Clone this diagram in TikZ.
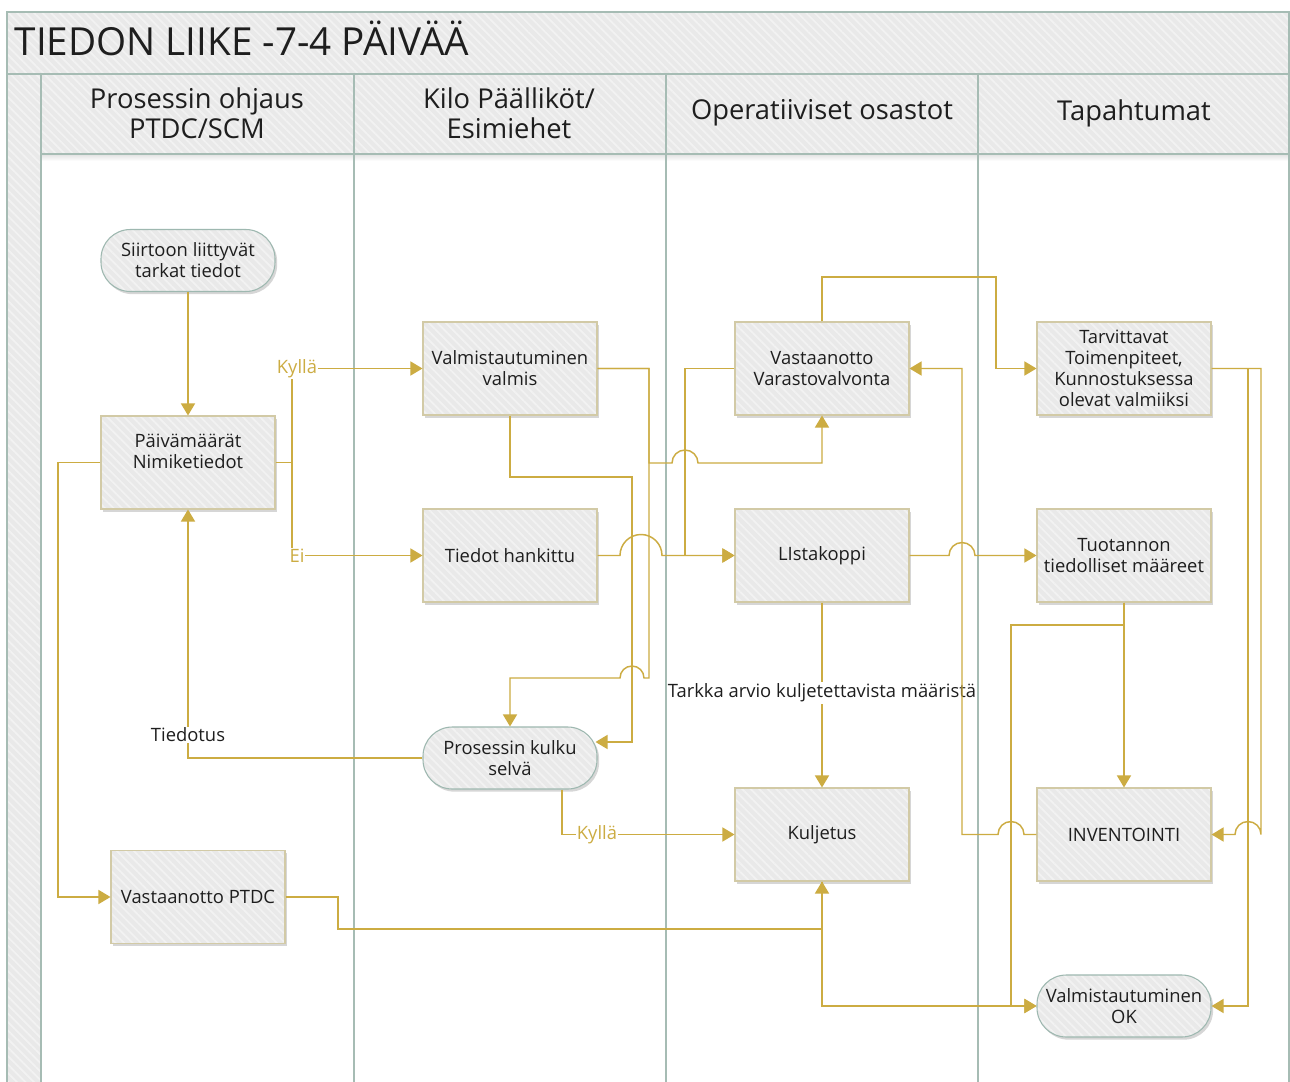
\documentclass[tikz,border=0pt]{standalone}
\usepackage{fontspec}
\setmainfont{Open Sans}
\usetikzlibrary{arrows.meta,patterns.meta,shadows,calc}

\definecolor{gold}{RGB}{204,172,66}
\definecolor{laneline}{RGB}{166,188,180}
\definecolor{cellfill}{RGB}{233,233,233}
\definecolor{stripe}{RGB}{242,242,242}
\definecolor{boxedge}{RGB}{210,202,166}
\definecolor{termedge}{RGB}{158,184,176}
\definecolor{ink}{RGB}{30,30,30}

\newcommand\boxfont{\fontsize{13.8}{15.75}\selectfont}
\newcommand\lanefont{\fontsize{20.5}{22.5}\selectfont}
\newcommand\bannerfont{\fontsize{29}{32}\selectfont}

\tikzset{
  hatched/.style={preaction={fill=cellfill},
    preaction={pattern={Lines[angle=-45,distance=4.5pt,line width=1.3pt]},
                pattern color=stripe}},
  procbox/.style={
    drop shadow={shadow xshift=1.6pt, shadow yshift=-2pt, opacity=0.16, fill=black},
    hatched, draw=boxedge, line width=0.8pt,
    minimum width=130.5pt, minimum height=69.75pt, inner sep=2pt,
    align=center, font=\boxfont, text=ink},
  termbox/.style={procbox, draw=termedge, minimum height=46.5pt, rounded corners=22pt},
  lanehead/.style={font=\lanefont, text=ink, align=center},
  link/.style={draw=gold, line width=1.1pt},
  conn/.style={link, -{Triangle[length=9pt,width=10.5pt]}},
  goldlbl/.style={fill=white, inner sep=0.6pt, text=gold, font=\boxfont},
  inklbl/.style={fill=white, inner xsep=0pt, inner ysep=1pt, text=ink, font=\boxfont},
  laneedge/.style={draw=laneline, line width=1.1pt}
}

\begin{document}
\begin{tikzpicture}[x=0.75pt,y=-0.75pt]
\useasboundingbox (0,0) rectangle (1290,1082);
\fill[white] (0,0) rectangle (1290,1082);

% swimlane frame
\path[hatched] (7,12) rectangle (1289,74);
\path[hatched] (7,74) rectangle (41,1082);
\path[hatched] (41,74) rectangle (1289,154);
\shade[top color=black!10, bottom color=white] (41,155) rectangle (1289,161);
\draw[laneedge] (7,1082) -- (7,12) -- (1289,12) -- (1289,1082);
\draw[laneedge] (7,74) -- (1289,74);
\draw[laneedge] (41,154) -- (1289,154);
\foreach \lx in {41,354,666,978} \draw[laneedge] (\lx,74) -- (\lx,1082);

\node[anchor=west, font=\bannerfont, text=ink] (title) at (10,38) {TIEDON LIIKE -7-4 PÄIVÄÄ};
\node[lanehead] (h1) at (197,113) {Prosessin ohjaus\\PTDC/SCM};
\node[lanehead] (h2) at (509,113) {Kilo Päälliköt/\\Esimiehet};
\node[lanehead] (h3) at (822,113) {Operatiiviset osastot};
\node[lanehead] (h4) at (1134,113) {Tapahtumat};

% process steps
\node[termbox] (sii)  at (188,260.5)  {Siirtoon liittyvät\\tarkat tiedot};
\node[procbox] (paiv) at (188,462.5)  {Päivämäärät\\Nimiketiedot\\[1.5pt]\mbox{}};
\node[procbox] (valv) at (510,368.5)  {Valmistautuminen\\valmis};
\node[procbox] (tied) at (510,555.5)  {Tiedot hankittu};
\node[procbox] (vast) at (822,368.5)  {Vastaanotto\\Varastovalvonta};
\node[procbox] (list) at (822,555.5)  {LIstakoppi};
\node[procbox] (tarv) at (1124,368.5) {Tarvittavat\\Toimenpiteet,\\Kunnostuksessa\\olevat valmiiksi};
\node[procbox] (tuot) at (1124,555.5) {Tuotannon\\tiedolliset määreet};
\node[termbox] (pros) at (510,758)    {Prosessin kulku\\selvä};
\node[procbox] (kulj) at (822,834.5)  {Kuljetus};
\node[procbox] (inv)  at (1124,834.5) {INVENTOINTI};
\node[procbox] (ptdc) at (198,897)    {Vastaanotto PTDC};
\node[termbox] (ok)   at (1124,1006)  {Valmistautuminen\\OK};

% connectors
\draw[conn] (sii.south) -- (paiv.north);
\draw[conn] (paiv.east) -- (292,462.5) -- (292,368.5) -- (valv.west);
\draw[conn] (paiv.east) -- (292,462.5) -- (292,555.5) -- (tied.west);
\node[goldlbl] (yes1) at (297,368.5) {Kyllä};
\node[goldlbl] (no1)  at (297,555.5) {Ei};
\draw[conn] (paiv.west) -- (58,462.5) -- (58,897) -- (ptdc.west);

\draw[conn] (valv.east) -- (649,368.5) -- (649,463) -- (672,463)
  arc[start angle=180, end angle=0, radius=9.75pt] -- (822,463) -- (vast.south);
\draw[conn] (valv.east) -- (649,368.5) -- (649,678) -- (644,678)
  arc[start angle=0, end angle=180, radius=9pt] -- (510,678) -- (pros.north);
\draw[conn] (valv.south) -- (510,477) -- (632,477) -- (632,742) -- ($(pros.east)+(-2,-16)$);

\draw[conn] (tied.east) -- (620,555.5)
  arc[start angle=180, end angle=0, radius=15.75pt] -- (list.west);
\draw[conn] (vast.west) -- (685,368.5) -- (685,555.5) -- (list.west);

\draw[conn] (vast.north) -- (822,277) -- (996,277) -- (996,368.5) -- (tarv.west);
\draw[conn] (list.east) -- (949,555.5)
  arc[start angle=180, end angle=0, radius=9.75pt] -- (tuot.west);

\draw[conn] (list.south) -- (kulj.north);
\node[inklbl] (est) at (822,693) {Tarkka arvio kuljetettavista määristä};

\draw[conn] (inv.west) -- (1024,834.5)
  arc[start angle=0, end angle=180, radius=9.75pt] -- (962,834.5) -- (962,368.5) -- (vast.east);

\draw[conn] (tuot.south) -- (inv.north);
\draw[conn] (tuot.south) -- (1124,625) -- (1011,625) -- (1011,1006) -- (ok.west);

\draw[conn] ($(pros.south)+(52,0)$) -- (562,834.5) -- (kulj.west);
\node[goldlbl] (yes2) at (597,834.5) {Kyllä};

\draw[conn] (pros.west) -- (188,758) -- (paiv.south);
\node[inklbl, inner xsep=1pt] (info) at (188,735) {Tiedotus};

\draw[conn] (ptdc.east) -- (338,897) -- (338,929) -- (822,929) -- (kulj.south);
\draw[conn] (kulj.south) -- (822,1006) -- (ok.west);

\draw[conn] (tarv.east) -- (1248,368.5) -- (1248,1006) -- (ok.east);
\draw[conn] (tarv.east) -- (1261,368.5) -- (1261,834.5)
  arc[start angle=0, end angle=180, radius=9.75pt] -- (inv.east);
\end{tikzpicture}
\end{document}
